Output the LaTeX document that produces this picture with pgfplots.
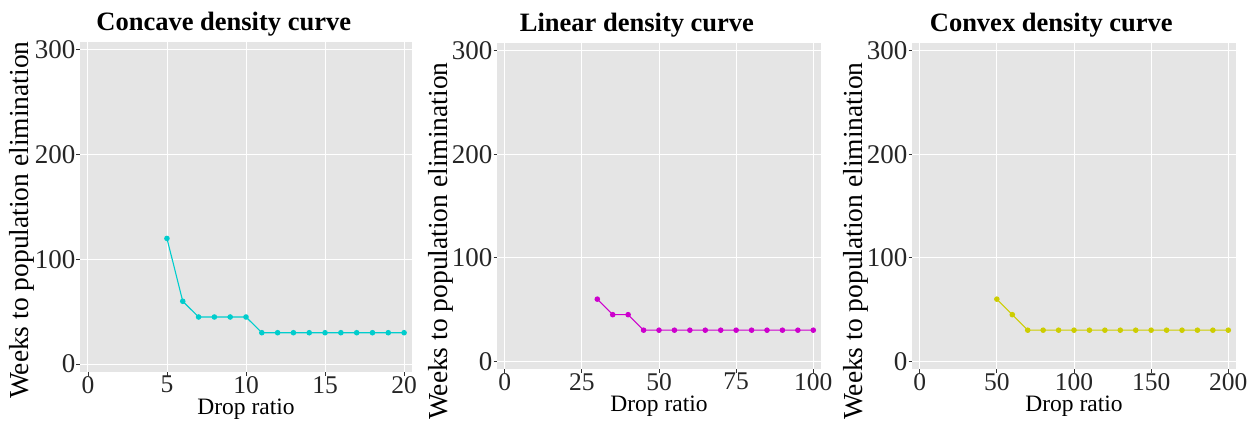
\documentclass[border=0pt]{standalone}
\usepackage{fontspec}
\setmainfont{Liberation Serif}
\usepackage{pgfplots}
\pgfplotsset{compat=1.18}
\definecolor{bgc}{RGB}{229,229,229}
\definecolor{ccyan}{RGB}{0,205,205}
\definecolor{cmag}{RGB}{205,0,205}
\definecolor{cyel}{RGB}{205,205,0}
\definecolor{tickc}{RGB}{51,51,51}
\pgfplotsset{
  panel/.style={
    scale only axis,
    anchor=south west,
    axis background/.style={fill=bgc},
    axis line style={draw=none},
    grid=major,
    major grid style={white, line width=0.9pt},
    tick align=outside,
    xtick pos=left, ytick pos=left,
    major tick length=3.5pt,
    tick style={tickc, line width=0.8pt},
    /pgf/number format/assume math mode=true,
    yticklabel style={font=\fontsize{27}{27}\selectfont, text=black!85, inner sep=1pt},
    xticklabel style={font=\fontsize{25.5}{25.5}\selectfont, text=black!85, inner sep=0.5pt},
    ymin=-7.5, ymax=307.5,
    ytick={0,100,200,300},
    ylabel={Weeks to population elimination},
    xlabel={Drop ratio},
    label style={font=\fontsize{23.5}{23.5}\selectfont, inner sep=0pt},
    ylabel style={font=\fontsize{27.5}{27.5}\selectfont},
    xlabel style={at={(axis description cs:0.5,0)}, anchor=north, yshift=-27pt},
    title style={font=\bfseries\fontsize{26.5}{26.5}\selectfont, anchor=base, inner sep=0pt},
    every axis plot/.append style={line width=1.1pt, mark=*, mark size=2.2pt},
  }
}
\begin{document}
\begin{tikzpicture}
\useasboundingbox (0pt,0pt) rectangle (1251pt,421pt);
% Panel 1
\begin{axis}[panel, at={(80pt,49pt)}, width=332pt, height=330pt,
  xmin=-0.5, xmax=20.5, xtick={0,5,10,15,20},
  title={Concave density curve},
  title style={at={(axis description cs:0.433,1.017)}},
  ylabel style={at={(axis description cs:-0.175,0.46)}, anchor=center}]
\addplot[ccyan, mark options={fill=ccyan, draw=ccyan}] coordinates {
(5,120) (6,60) (7,45) (8,45) (9,45) (10,45) (11,30) (12,30) (13,30) (14,30) (15,30) (16,30) (17,30) (18,30) (19,30) (20,30)};
\end{axis}
% Panel 2
\begin{axis}[panel, at={(497pt,52pt)}, width=324pt, height=326pt,
  xmin=-2.5, xmax=102.5, xtick={0,25,50,75,100},
  title={Linear density curve},
  title style={at={(axis description cs:0.432,1.018)}},
  ylabel style={at={(axis description cs:-0.172,0.392)}, anchor=center}]
\addplot[cmag, mark options={fill=cmag, draw=cmag}] coordinates {
(30,60) (35,45) (40,45) (45,30) (50,30) (55,30) (60,30) (65,30) (70,30) (75,30) (80,30) (85,30) (90,30) (95,30) (100,30)};
\end{axis}
% Panel 3
\begin{axis}[panel, at={(912pt,52pt)}, width=324pt, height=326pt,
  xmin=-5, xmax=205, xtick={0,50,100,150,200},
  title={Convex density curve},
  title style={at={(axis description cs:0.43,1.018)}},
  ylabel style={at={(axis description cs:-0.172,0.392)}, anchor=center}]
\addplot[cyel, mark options={fill=cyel, draw=cyel}] coordinates {
(50,60) (60,45) (70,30) (80,30) (90,30) (100,30) (110,30) (120,30) (130,30) (140,30) (150,30) (160,30) (170,30) (180,30) (190,30) (200,30)};
\end{axis}
\end{tikzpicture}
\end{document}
